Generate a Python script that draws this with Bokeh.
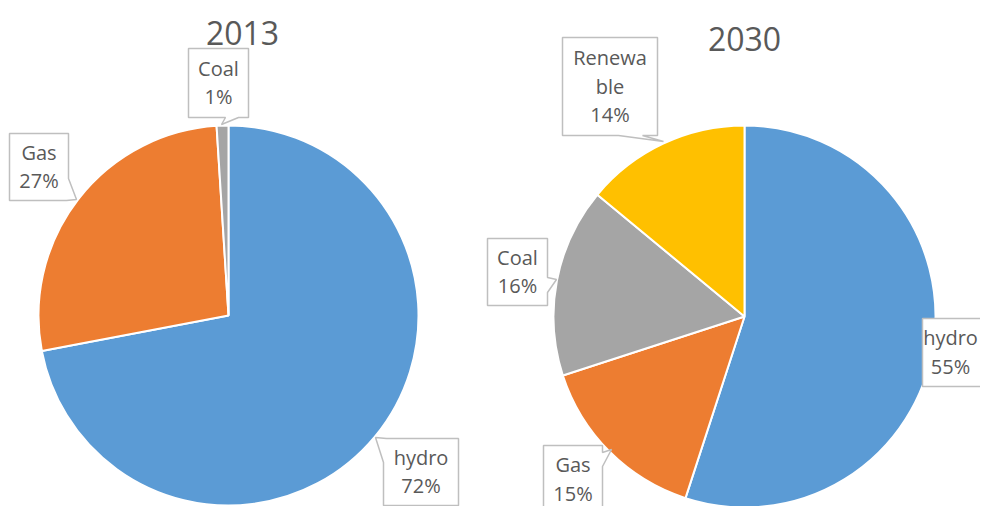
import numpy as np
from bokeh.plotting import figure
from bokeh.models import Range1d, ColumnDataSource
from bokeh.core.properties import value
from bokeh.embed import file_html
from bokeh.resources import INLINE

# ---------------- data ----------------
years = ["2013", "2030"]
cats_2013 = ["hydro", "Gas", "Coal"]
vals_2013 = [72, 27, 1]
cats_2030 = ["hydro", "Gas", "Coal", "Renewable"]
vals_2030 = [55, 15, 16, 14]
colors = {"hydro": "#5B9BD5", "Gas": "#ED7D31", "Coal": "#A5A5A5", "Renewable": "#FFC000"}
wrapped_names = {"Renewable": ["Renewa", "ble"]}

# ---------------- layout (reference pixel coords, y downward) ----------------
H = 522
W_FIG, H_FIG = 980, 506
pies = {
    "2013": dict(cx=228, cy=315, r=190, title=(242, 32)),
    "2030": dict(cx=744, cy=316, r=191, title=(744, 38)),
}
# callout outlines (polygon incl. pointer) per pie/category
callouts = {
    ("2013", "Coal"): [(188, 48), (248, 48), (248, 117), (238, 117), (221, 124), (225, 117), (188, 117)],
    ("2013", "Gas"): [(9, 133), (68, 133), (68, 178), (76, 199), (66, 200), (9, 200)],
    ("2013", "hydro"): [(386, 438), (458, 438), (458, 505), (383, 505), (383, 462), (375, 437)],
    ("2030", "Renewable"): [(562, 37), (657, 37), (657, 135), (642, 135), (663, 141), (618, 135), (562, 135)],
    ("2030", "Coal"): [(487, 238), (547, 238), (547, 277), (556, 279), (547, 292), (547, 305), (487, 305)],
    ("2030", "hydro"): [(922, 318), (1010, 318), (1010, 386), (922, 386)],
    ("2030", "Gas"): [(543, 445), (602, 445), (602, 452), (611, 449), (602, 466), (602, 540), (543, 540)],
}
# text block centres for each callout
text_centres = {
    ("2013", "Coal"): (218, 82.5),
    ("2013", "Gas"): (38.5, 166.5),
    ("2013", "hydro"): (420.5, 471.5),
    ("2030", "Renewable"): (609.5, 86),
    ("2030", "Coal"): (517, 271.5),
    ("2030", "hydro"): (950, 352),
    ("2030", "Gas"): (572.5, 479),
}
LINE_GAP = 28.5
TEXT_COLOR = "#595959"
FONT = "Open Sans"


def Y(y):
    return H - y


p = figure(width=W_FIG, height=H_FIG, x_range=Range1d(0, W_FIG), y_range=Range1d(H - H_FIG, H),
           output_backend="svg", toolbar_location=None, min_border=0,
           x_axis_type=None, y_axis_type=None)
p.grid.visible = False
p.outline_line_color = None
p.background_fill_color = "white"
p.border_fill_color = "white"

series = {"2013": (cats_2013, vals_2013), "2030": (cats_2030, vals_2030)}

for yr in years:
    cats, vals = series[yr]
    lay = pies[yr]
    total = float(sum(vals))
    cum = np.cumsum([0] + list(vals)) / total
    start = np.pi / 2 - 2 * np.pi * cum[:-1]
    end = np.pi / 2 - 2 * np.pi * cum[1:]
    src = ColumnDataSource(dict(
        x=[lay["cx"]] * len(cats), y=[Y(lay["cy"])] * len(cats),
        start=start, end=end, color=[colors[c] for c in cats]))
    p.wedge(x="x", y="y", radius=lay["r"], start_angle="start", end_angle="end",
            direction="clock", fill_color="color", line_color="white", line_width=2, source=src)

    # callouts
    xs, ys, lx, ly, lt = [], [], [], [], []
    for c, v in zip(cats, vals):
        pts = callouts[(yr, c)]
        xs.append([pt[0] for pt in pts])
        ys.append([Y(pt[1]) for pt in pts])
        lines = wrapped_names.get(c, [c]) + [f"{round(100 * v / total)}%"]
        n = len(lines)
        cxb, cyb = text_centres[(yr, c)]
        for i, t in enumerate(lines):
            lx.append(cxb)
            ly.append(Y(cyb - 0.5 + (i - (n - 1) / 2) * LINE_GAP))
            lt.append(t)
    p.patches(xs=xs, ys=ys, fill_color="white", line_color="#BFBFBF", line_width=1.5)
    p.text(x=lx, y=ly, text=lt, text_font=value(FONT), text_font_size="20px",
           text_color=TEXT_COLOR, text_align="center", text_baseline="alphabetic")

    # title
    tx, ty = lay["title"]
    p.text(x=[tx], y=[Y(ty)], text=[yr], text_font=value(FONT), text_font_size="32px",
           text_color=TEXT_COLOR, text_align="center", text_baseline="alphabetic")

open("out.html", "w").write(file_html(p, INLINE))
